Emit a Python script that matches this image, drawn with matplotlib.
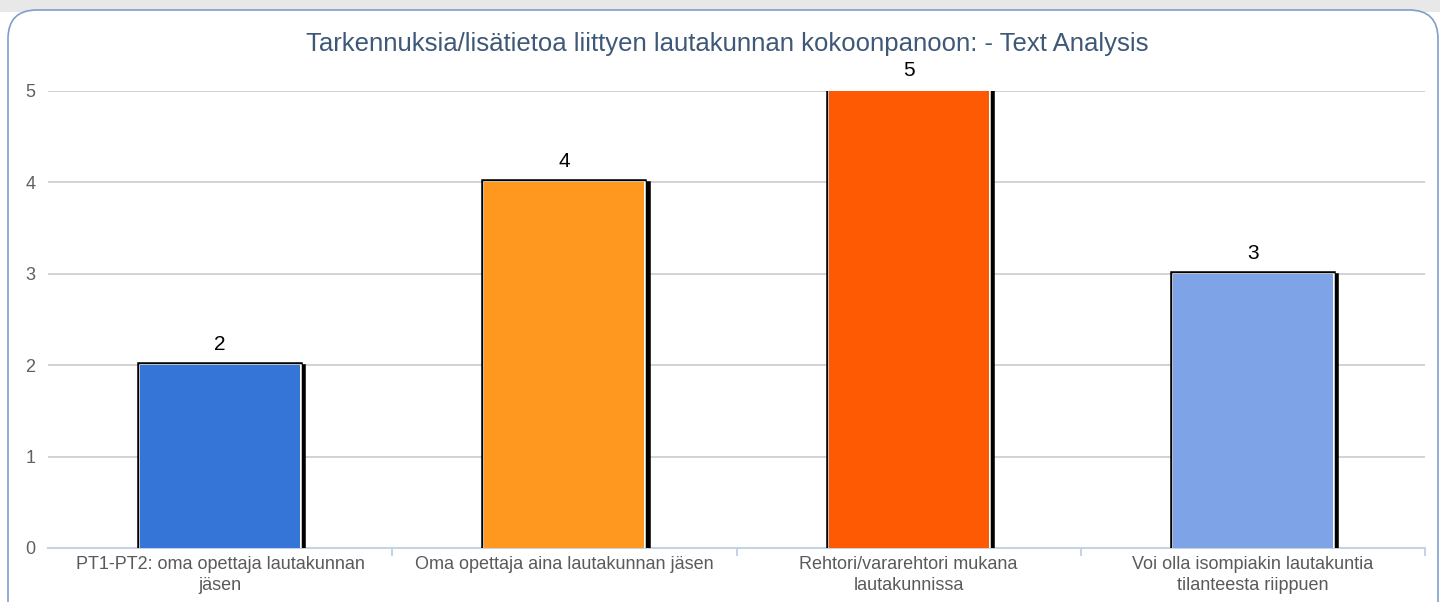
import matplotlib
matplotlib.use("Agg")
import matplotlib.pyplot as plt
import matplotlib.patheffects as pe
from matplotlib.patches import FancyBboxPatch, Rectangle

plt.rcParams['font.family'] = ['Liberation Sans', 'DejaVu Sans']

# data
categories = ['PT1-PT2: oma opettaja lautakunnan\njäsen',
              'Oma opettaja aina lautakunnan jäsen',
              'Rehtori/vararehtori mukana\nlautakunnissa',
              'Voi olla isompiakin lautakuntia\ntilanteesta riippuen']
values = [2, 4, 5, 3]
colors = ['#3575d8', '#fe981f', '#fe5a03', '#7ea4e7']
title = 'Tarkennuksia/lisätietoa liittyen lautakunnan kokoonpanoon: - Text Analysis'

W, H = 1440, 602
fig = plt.figure(figsize=(W / 100, H / 100), dpi=100, facecolor='white')

# background band and rounded panel
fig.patches.append(Rectangle((0, 1 - 12 / H), 1, 12 / H, transform=fig.transFigure,
                             facecolor='#e8e8e8', edgecolor='none', zorder=0))
fig.patches.append(FancyBboxPatch((8 / W, -0.1), (1430) / W, 1 - 10 / H + 0.1,
                                  boxstyle='round,pad=0,rounding_size=0.02',
                                  transform=fig.transFigure, mutation_aspect=W / H,
                                  facecolor='white', edgecolor='#7f9fcb', linewidth=1.2, zorder=1))

ax = fig.add_axes([48 / W, 1 - 548 / H, (1425 - 48) / W, (548 - 91) / H])
ax.set_facecolor('none')
ax.set_zorder(2)

x = list(range(len(categories)))
bars = ax.bar(x, values, width=0.465, color=colors, edgecolor='none', zorder=3)
for b in bars:
    b.set_path_effects([
        pe.Stroke(offset=(2.4, -1.5), linewidth=4, foreground='black'),
        pe.Stroke(linewidth=4, foreground='black'),
        pe.Stroke(linewidth=1.8, foreground='white'),
        pe.Normal(),
    ])

for xi, v in zip(x, values):
    ax.annotate(str(v), (xi, v), xytext=(0, 8), textcoords='offset points',
                ha='center', va='bottom', fontsize=15, color='black', annotation_clip=False)

ax.set_xlim(-0.5, len(categories) - 0.5)
ax.set_ylim(0, 5)
ax.set_yticks(range(0, 6))
ax.grid(axis='y', color='#c6c6c6', linewidth=1.1)
ax.set_axisbelow(True)
for s in ['top', 'right', 'left']:
    ax.spines[s].set_visible(False)
ax.spines['bottom'].set_color('#c5d3e6')
ax.spines['bottom'].set_linewidth(1.5)

ax.set_xticks(x)
ax.set_xticklabels(categories, fontsize=13, color='#5a5a5a', linespacing=1.3)
ax.set_xticks([0.5, 1.5, 2.5, 3.5], minor=True)
ax.tick_params(axis='x', which='major', length=0, pad=6)
ax.tick_params(axis='x', which='minor', length=6, width=1.5, color='#c5d3e6')
ax.tick_params(axis='y', length=0, pad=9, labelsize=13, labelcolor='#606060')

fig.text(727 / W, 1 - 44 / H, title, ha='center', va='center', fontsize=18.5,
         color='#3e5878', zorder=5)

fig.savefig('out.png', dpi=100)
